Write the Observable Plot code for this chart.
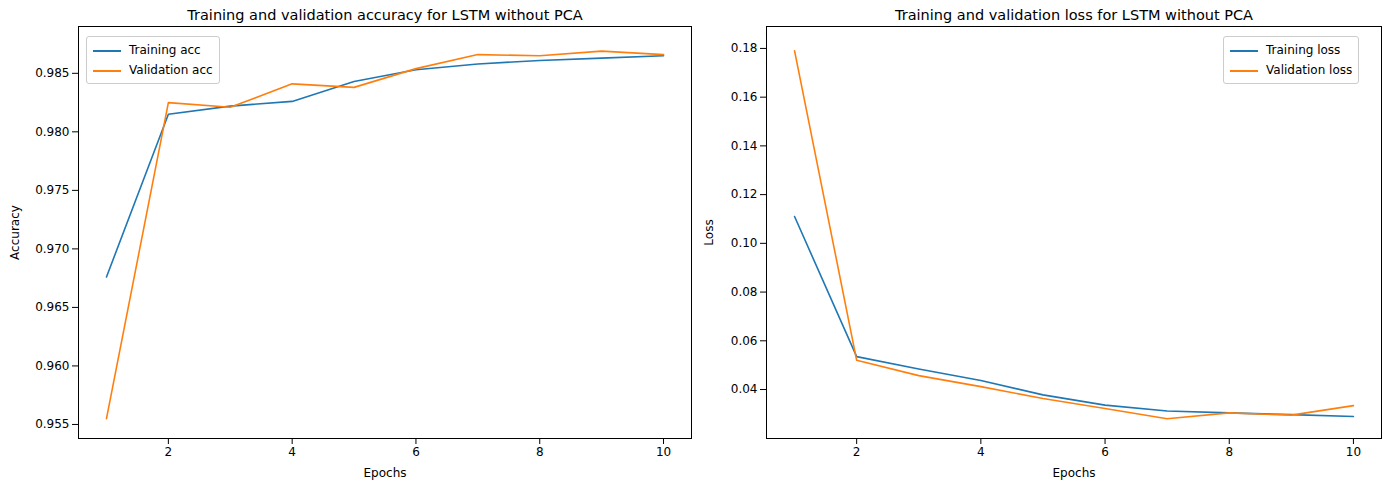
<!DOCTYPE html>
<html><head><meta charset="utf-8">
<script src="https://cdn.jsdelivr.net/npm/d3@7"></script>
<script src="https://cdn.jsdelivr.net/npm/@observablehq/plot@0.6"></script>
<style>
body{margin:0;background:#fff;font-family:"DejaVu Sans",sans-serif;}
#row{display:flex;position:relative;width:1389px;height:490px;}
.leg{position:absolute;border:1px solid #ccc;border-radius:3px;background:#fff;font-size:12px;padding:3px 6px;line-height:20px}
.leg span{display:inline-block;width:28px;height:2px;vertical-align:middle;margin-right:8px}
</style></head><body>
<div id="row"></div>
<script>
const epochs = [1,2,3,4,5,6,7,8,9,10];
const trainAcc = [0.9676,0.9815,0.9822,0.9826,0.9843,0.9853,0.9858,0.9861,0.9863,0.9865];
const valAcc = [0.9555,0.9825,0.9821,0.9841,0.9838,0.9854,0.9866,0.9865,0.9869,0.9866];
const trainLoss = [0.111,0.0535,0.0484,0.0437,0.0378,0.0336,0.0312,0.0304,0.0297,0.0289];
const valLoss = [0.179,0.052,0.0457,0.0412,0.0363,0.0322,0.028,0.0304,0.0295,0.0334];
const blue = "#1f77b4", orange = "#ff7f0e";

function panel(title, ylabel, train, val, yDomain, yTicks, fmt, width, ml, mr) {
  const a = epochs.map((e, i) => ({e, v: train[i]}));
  const b = epochs.map((e, i) => ({e, v: val[i]}));
  return Plot.plot({
    width, height: 490, marginTop: 26, marginBottom: 52, marginLeft: ml, marginRight: mr,
    style: {fontSize: "12px", fontFamily: "DejaVu Sans", color: "#000", background: "#fff", overflow: "visible"},
    x: {domain: [0.548, 10.452], ticks: [2,4,6,8,10], label: "Epochs", labelAnchor: "center", labelArrow: "none", labelOffset: 38},
    y: {domain: yDomain, ticks: yTicks, tickFormat: fmt, label: ylabel, labelAnchor: "center", labelArrow: "none", labelOffset: ml - 10},
    marks: [
      Plot.frame({stroke: "#000"}),
      Plot.line(a, {x: "e", y: "v", stroke: blue, strokeWidth: 1.6}),
      Plot.line(b, {x: "e", y: "v", stroke: orange, strokeWidth: 1.6}),
      Plot.text([title], {frameAnchor: "top", dy: -7, lineAnchor: "bottom", fontSize: 14.5, text: d => d})
    ]
  });
}
const row = document.getElementById("row");
row.append(panel("Training and validation accuracy for LSTM without PCA", "Accuracy", trainAcc, valAcc,
  [0.9538, 0.989], d3.range(0.955, 0.9851, 0.005), d3.format(".3f"), 694, 78, 3));
row.append(panel("Training and validation loss for LSTM without PCA", "Loss", trainLoss, valLoss,
  [0.0199, 0.189], d3.range(0.04, 0.181, 0.02), d3.format(".2f"), 695, 72, 8));
function legend(x, names) {
  const d = document.createElement("div");
  d.className = "leg"; d.style.left = x + "px"; d.style.top = "36px";
  d.innerHTML = `<div><span style="background:${blue}"></span>${names[0]}</div><div><span style="background:${orange}"></span>${names[1]}</div>`;
  row.append(d);
}
legend(86, ["Training acc", "Validation acc"]);
legend(1223, ["Training loss", "Validation loss"]);
</script></body></html>
